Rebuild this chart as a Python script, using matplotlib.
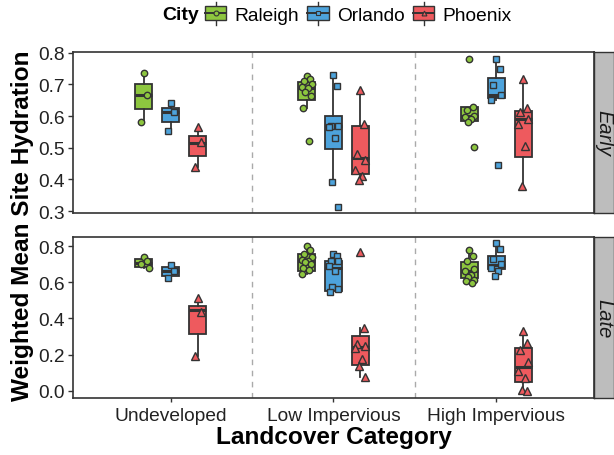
import matplotlib
matplotlib.use("Agg")
import matplotlib.pyplot as plt
from matplotlib.patches import Rectangle, Patch
from matplotlib.lines import Line2D
from matplotlib.legend_handler import HandlerBase

plt.rcParams['font.family'] = ['Liberation Sans', 'DejaVu Sans']

# categories
landcover = ["Undeveloped", "Low Impervious", "High Impervious"]
cities = ["Raleigh", "Orlando", "Phoenix"]
periods = ["Early", "Late"]

# site values, one list per landcover category
early_raleigh = [[0.736, 0.665, 0.580],
                 [0.726, 0.717, 0.710, 0.700, 0.692, 0.689, 0.675, 0.663, 0.626, 0.521],
                 [0.781, 0.628, 0.620, 0.600, 0.597, 0.590, 0.581, 0.502]]
early_orlando = [[0.642, 0.612, 0.552],
                 [0.729, 0.694, 0.570, 0.567, 0.565, 0.532, 0.393, 0.313],
                 [0.780, 0.747, 0.697, 0.665, 0.651, 0.445]]
early_phoenix = [[0.564, 0.517, 0.438],
                 [0.682, 0.576, 0.479, 0.460, 0.429, 0.410, 0.397],
                 [0.717, 0.626, 0.612, 0.592, 0.574, 0.505, 0.380]]
late_raleigh = [[0.737, 0.715, 0.700, 0.680],
                [0.800, 0.780, 0.755, 0.740, 0.725, 0.715, 0.710, 0.700, 0.680, 0.665, 0.648],
                [0.778, 0.747, 0.716, 0.673, 0.664, 0.640, 0.627, 0.615, 0.609, 0.594]]
late_orlando = [[0.697, 0.660, 0.622],
                [0.756, 0.743, 0.720, 0.715, 0.688, 0.664, 0.572, 0.563, 0.545],
                [0.815, 0.783, 0.728, 0.700, 0.677, 0.664, 0.636]]
late_phoenix = [[0.513, 0.438, 0.195],
                [0.765, 0.348, 0.260, 0.250, 0.235, 0.177, 0.140, 0.078],
                [0.333, 0.263, 0.226, 0.158, 0.112, 0.072, 0.005, 0.000]]

# box statistics: (whisker low, q1, median, q3, whisker high)
early_raleigh_box = [(0.582, 0.622, 0.665, 0.700, 0.736),
                     (0.626, 0.649, 0.689, 0.708, 0.726),
                     (0.581, 0.584, 0.600, 0.628, 0.628)]
early_orlando_box = [(0.552, 0.580, 0.612, 0.626, 0.642),
                     (0.395, 0.497, 0.568, 0.600, 0.726),
                     (0.651, 0.656, 0.665, 0.720, 0.780)]
early_phoenix_box = [(0.438, 0.474, 0.516, 0.538, 0.564),
                     (0.395, 0.418, 0.469, 0.570, 0.684),
                     (0.378, 0.471, 0.592, 0.616, 0.717)]
late_raleigh_box = [(0.680, 0.686, 0.706, 0.728, 0.737),
                    (0.646, 0.664, 0.716, 0.756, 0.802),
                    (0.594, 0.623, 0.664, 0.714, 0.778)]
late_orlando_box = [(0.622, 0.636, 0.660, 0.682, 0.697),
                    (0.535, 0.553, 0.677, 0.719, 0.756),
                    (0.627, 0.673, 0.697, 0.743, 0.815)]
late_phoenix_box = [(0.195, 0.314, 0.447, 0.471, 0.513),
                    (0.076, 0.143, 0.241, 0.302, 0.348),
                    (-0.005, 0.048, 0.131, 0.237, 0.333)]

# styling
colors = ["#8DC63F", "#4DA3DC", "#EE5A5E"]
markers = ["o", "s", "^"]
edge = "#333333"
dodge = [-0.165, 0.0, 0.165]
box_w = 0.105
jitter = [0.0, 0.022, -0.018, 0.03, -0.03, 0.01, -0.01, 0.026, -0.024, 0.016, -0.027]

panels = {
    "Early": ([early_raleigh, early_orlando, early_phoenix],
              [early_raleigh_box, early_orlando_box, early_phoenix_box],
              (0.294, 0.802), [0.3, 0.4, 0.5, 0.6, 0.7, 0.8]),
    "Late": ([late_raleigh, late_orlando, late_phoenix],
             [late_raleigh_box, late_orlando_box, late_phoenix_box],
             (-0.039, 0.85), [0.0, 0.2, 0.4, 0.6, 0.8]),
}

fig = plt.figure(figsize=(6.14, 4.56), dpi=100)
ax_left, ax_w = 0.1189, 0.8485
ax_h = 0.3531
bottoms = {"Early": 0.5307, "Late": 0.125}

for period in periods:
    values, boxes, ylim, yticks = panels[period]
    ax = fig.add_axes([ax_left, bottoms[period], ax_w, ax_h])
    for ci in range(3):
        stats = []
        pos = []
        for li in range(3):
            lo, q1, med, q3, hi = boxes[ci][li]
            stats.append(dict(whislo=lo, q1=q1, med=med, q3=q3, whishi=hi, fliers=[]))
            pos.append(li + 1 + dodge[ci])
        ax.bxp(stats, positions=pos, widths=box_w, patch_artist=True,
               showcaps=False, showfliers=False,
               boxprops=dict(facecolor=colors[ci], edgecolor=edge, linewidth=1.3),
               medianprops=dict(color=edge, linewidth=2.2),
               whiskerprops=dict(color=edge, linewidth=1.3), zorder=2)
        for li in range(3):
            ys = values[ci][li]
            xs = [li + 1 + dodge[ci] + jitter[k % len(jitter)] for k in range(len(ys))]
            ax.plot(xs, ys, ls="none", marker=markers[ci],
                    ms=5.6 if markers[ci] == "^" else 4.6,
                    mfc=colors[ci], mec=edge, mew=1.0, zorder=3)
    for xv in (1.5, 2.5):
        ax.axvline(xv, color="#aaaaaa", ls=(0, (4, 4)), lw=1.0, zorder=1)
    ax.set_xlim(0.4, 3.6)
    ax.set_ylim(*ylim)
    ax.set_yticks(yticks)
    ax.set_yticklabels([f"{t:.1f}" for t in yticks])
    ax.set_xticks([1, 2, 3])
    for sp in ax.spines.values():
        sp.set_color(edge)
        sp.set_linewidth(1.2)
    ax.tick_params(axis="y", length=3.6, width=1, color=edge, pad=2.5,
                   labelsize=13.8, labelcolor="#222222")
    if period == "Late":
        ax.set_xticklabels(landcover)
        ax.tick_params(axis="x", length=3.0, width=1, color=edge, pad=3.5,
                       labelsize=13.8, labelcolor="#222222")
    else:
        ax.tick_params(axis="x", bottom=False, labelbottom=False)

    # facet strip on the right
    strip = fig.add_axes([ax_left + ax_w, bottoms[period], 1 - ax_left - ax_w, ax_h])
    strip.set_facecolor("#BDBDBD")
    strip.set_xticks([])
    strip.set_yticks([])
    for sp in strip.spines.values():
        sp.set_color(edge)
        sp.set_linewidth(1.0)
    strip.text(0.5, 0.5, period, rotation=-90, style="italic", fontsize=14.5,
               ha="center", va="center", transform=strip.transAxes, color="#1a1a1a")

fig.text(0.036, 0.504, "Weighted Mean Site Hydration", rotation=90, fontsize=17.6,
         fontweight="bold", ha="center", va="center")
fig.text(0.544, 0.0395, "Landcover Category", fontsize=17.6, fontweight="bold",
         ha="center", va="center")


class BoxKey(HandlerBase):
    def __init__(self, color, marker):
        super().__init__()
        self.color = color
        self.marker = marker

    def create_artists(self, legend, orig_handle, xdescent, ydescent, width, height,
                       fontsize, trans):
        x0, y0 = -xdescent, -ydescent
        cx = x0 + width / 2
        whisk = Line2D([cx, cx], [y0 - 0.3 * height, y0 + 1.3 * height],
                       color=edge, lw=1.0, transform=trans)
        rect = Rectangle((x0, y0), width, height,
                         facecolor=self.color, edgecolor=edge, lw=1.0, transform=trans)
        med = Line2D([x0, x0 + width], [y0 + 0.5 * height] * 2, color=edge, lw=1.4,
                     transform=trans)
        pt = Line2D([cx], [y0 + 0.5 * height], marker=self.marker, ms=3.5,
                    mfc=self.color, mec=edge, mew=0.8, transform=trans)
        return [whisk, rect, med, pt]


handles = [Patch(facecolor=c) for c in colors]
hmap = {h: BoxKey(c, m) for h, c, m in zip(handles, colors, markers)}
fig.text(0.264, 0.965, "City", fontsize=14, fontweight="bold", ha="left", va="center")
fig.legend(handles, cities, handler_map=hmap, ncol=3, loc="center left",
           bbox_to_anchor=(0.334, 0.965), frameon=False, fontsize=13.8,
           handlelength=1.1, handleheight=0.78, handletextpad=0.45,
           columnspacing=0.42, borderpad=0.0, borderaxespad=0.0)

fig.savefig("out.png", dpi=100)
